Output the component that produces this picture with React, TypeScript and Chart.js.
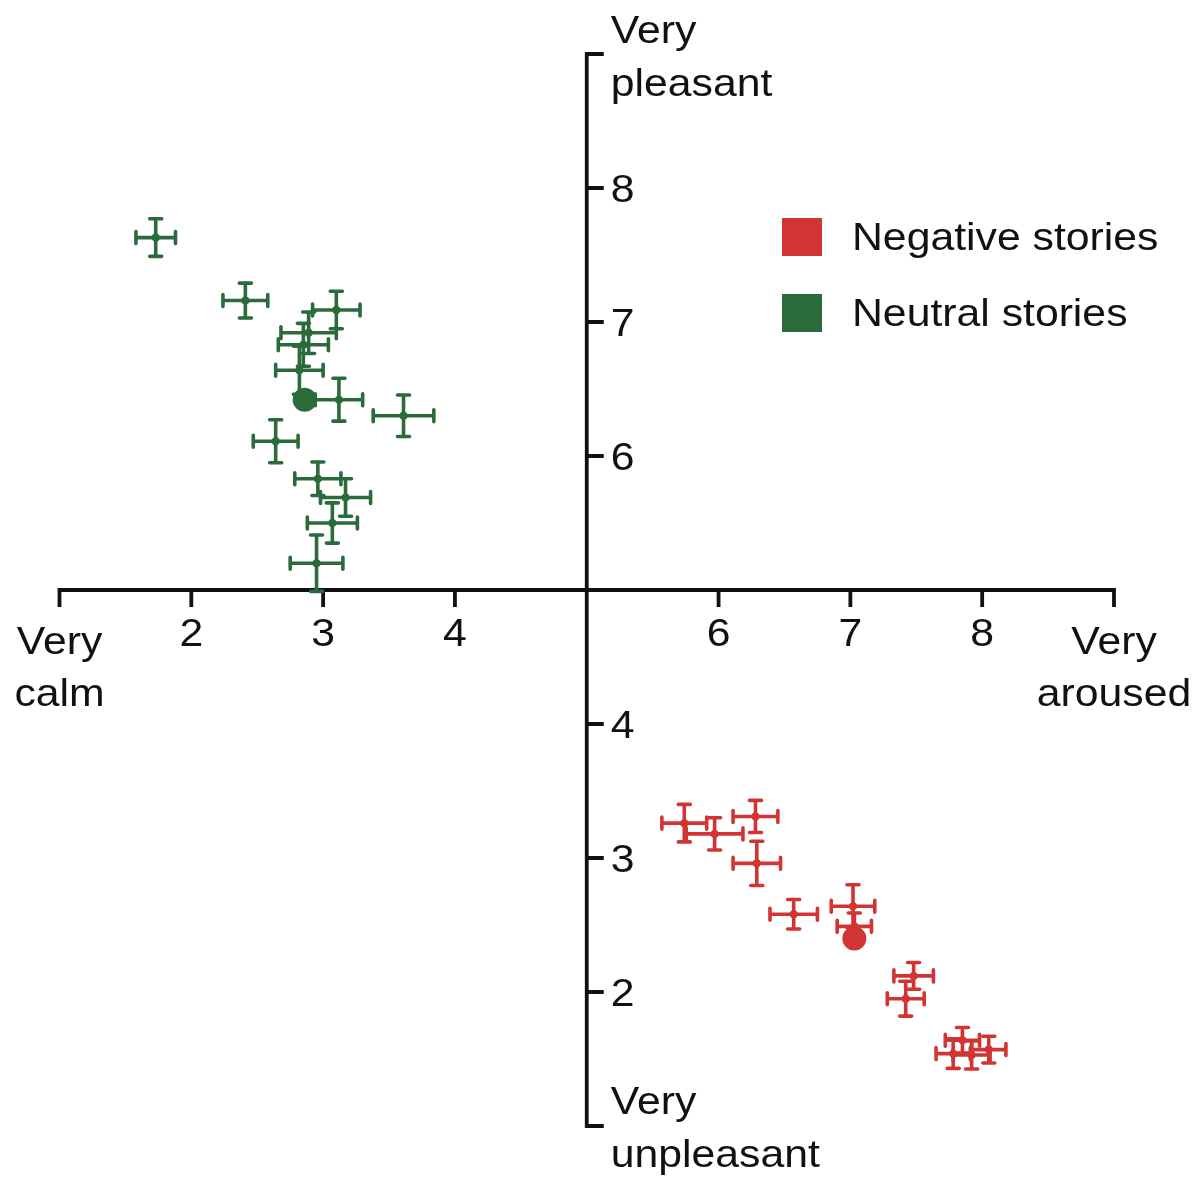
import React, { useEffect, useRef } from 'react';
import { Chart, registerables } from 'chart.js';

Chart.register(...registerables);

// ---------------- DATA ----------------
const negativeLabel = 'Negative stories';
const neutralLabel = 'Neutral stories';

// Neutral stories (green): arousal (x), valence (y), and SE bars
const neutralX = [1.73, 2.41, 3.10, 2.89, 2.85, 2.82, 3.12, 3.61, 2.64, 2.96, 3.17, 3.07, 2.95];
const neutralY = [7.63, 7.16, 7.09, 6.92, 6.83, 6.64, 6.42, 6.30, 6.11, 5.83, 5.69, 5.50, 5.20];
const neutralXErr = [0.15, 0.17, 0.18, 0.21, 0.19, 0.18, 0.18, 0.23, 0.17, 0.175, 0.19, 0.19, 0.20];
const neutralYErr = [0.14, 0.13, 0.14, 0.155, 0.16, 0.18, 0.16, 0.155, 0.16, 0.125, 0.14, 0.15, 0.21];
const neutralMean = [2.86, 6.42];

// Negative stories (red)
const negativeX = [5.74, 5.97, 6.28, 6.29, 6.57, 7.02, 7.03, 7.48, 7.42, 7.85, 7.78, 8.05, 7.92];
const negativeY = [3.26, 3.18, 3.31, 2.96, 2.58, 2.64, 2.49, 2.12, 1.95, 1.64, 1.54, 1.57, 1.53];
const negativeXErr = [0.17, 0.215, 0.17, 0.18, 0.18, 0.165, 0.13, 0.15, 0.14, 0.13, 0.13, 0.13, 0.14];
const negativeYErr = [0.14, 0.12, 0.12, 0.165, 0.11, 0.16, 0.10, 0.10, 0.13, 0.095, 0.11, 0.10, 0.105];
const negativeMean = [7.03, 2.40];

// Tick labels
const xTickValues = [2, 3, 4, 6, 7, 8];
const yTickValues = [2, 3, 4, 6, 7, 8];
const xLowLabel = ['Very', 'calm'];
const xHighLabel = ['Very', 'aroused'];
const yHighLabel = ['Very', 'pleasant'];
const yLowLabel = ['Very', 'unpleasant'];

// ---------------- STYLE ----------------
const RED = '#d13533';
const GREEN = '#2b6a3a';
const INK = '#111111';
const FONT = "38.5px 'Liberation Sans', Arial, Helvetica, sans-serif";
const SX = 1.11;

function drawText(ctx: CanvasRenderingContext2D, text: string, x: number, y: number, align: CanvasTextAlign) {
  ctx.save();
  ctx.translate(x, y + 3);
  ctx.scale(SX, 1);
  ctx.font = FONT;
  ctx.fillStyle = INK;
  ctx.textAlign = align;
  ctx.textBaseline = 'middle';
  ctx.fillText(text, 0, 0);
  ctx.restore();
}

const series = [
  { xs: neutralX, ys: neutralY, xe: neutralXErr, ye: neutralYErr, color: GREEN },
  { xs: negativeX, ys: negativeY, xe: negativeXErr, ye: negativeYErr, color: RED },
];

const quadrantPlugin = {
  id: 'quadrant',
  beforeDatasetsDraw(chart: any) {
    const { ctx } = chart;
    const xs = chart.scales.x;
    const ys = chart.scales.y;
    const x0 = xs.getPixelForValue(5);
    const y0 = ys.getPixelForValue(5);
    const xl = xs.getPixelForValue(1);
    const xr = xs.getPixelForValue(9);
    const yt = ys.getPixelForValue(9);
    const yb = ys.getPixelForValue(1);
    const tick = 17;
    ctx.save();
    ctx.strokeStyle = INK;
    ctx.lineWidth = 3.8;
    ctx.lineCap = 'butt';
    ctx.lineJoin = 'miter';
    ctx.beginPath();
    ctx.moveTo(xl, y0 + tick);
    ctx.lineTo(xl, y0);
    ctx.lineTo(xr, y0);
    ctx.lineTo(xr, y0 + tick);
    ctx.stroke();
    ctx.beginPath();
    ctx.moveTo(x0 + tick, yt);
    ctx.lineTo(x0, yt);
    ctx.lineTo(x0, yb);
    ctx.lineTo(x0 + tick, yb);
    ctx.stroke();
    ctx.beginPath();
    for (const v of xTickValues) {
      const px = xs.getPixelForValue(v);
      ctx.moveTo(px, y0);
      ctx.lineTo(px, y0 + tick);
    }
    for (const v of yTickValues) {
      const py = ys.getPixelForValue(v);
      ctx.moveTo(x0, py);
      ctx.lineTo(x0 + tick, py);
    }
    ctx.stroke();

    // error bars
    const cap = 6;
    ctx.lineWidth = 3.6;
    ctx.lineCap = 'round';
    for (const s of series) {
      ctx.strokeStyle = s.color;
      for (let i = 0; i < s.xs.length; i++) {
        const cx = xs.getPixelForValue(s.xs[i]);
        const cy = ys.getPixelForValue(s.ys[i]);
        const xa = xs.getPixelForValue(s.xs[i] - s.xe[i]);
        const xb = xs.getPixelForValue(s.xs[i] + s.xe[i]);
        const ya = ys.getPixelForValue(s.ys[i] + s.ye[i]);
        const yb2 = ys.getPixelForValue(s.ys[i] - s.ye[i]);
        ctx.beginPath();
        ctx.moveTo(xa, cy);
        ctx.lineTo(xb, cy);
        ctx.moveTo(xa, cy - cap);
        ctx.lineTo(xa, cy + cap);
        ctx.moveTo(xb, cy - cap);
        ctx.lineTo(xb, cy + cap);
        ctx.moveTo(cx, ya);
        ctx.lineTo(cx, yb2);
        ctx.moveTo(cx - cap, ya);
        ctx.lineTo(cx + cap, ya);
        ctx.moveTo(cx - cap, yb2);
        ctx.lineTo(cx + cap, yb2);
        ctx.stroke();
      }
    }
    ctx.restore();
  },
  afterDraw(chart: any) {
    const { ctx } = chart;
    const xs = chart.scales.x;
    const ys = chart.scales.y;
    const x0 = xs.getPixelForValue(5);
    const y0 = ys.getPixelForValue(5);
    for (const v of xTickValues) {
      drawText(ctx, String(v), xs.getPixelForValue(v), y0 + 42, 'center');
    }
    for (const v of yTickValues) {
      drawText(ctx, String(v), x0 + 24, ys.getPixelForValue(v), 'left');
    }
    const xl = xs.getPixelForValue(1);
    const xr = xs.getPixelForValue(9);
    drawText(ctx, xLowLabel[0], xl, y0 + 50, 'center');
    drawText(ctx, xLowLabel[1], xl, y0 + 102, 'center');
    drawText(ctx, xHighLabel[0], xr, y0 + 50, 'center');
    drawText(ctx, xHighLabel[1], xr, y0 + 102, 'center');
    const yt = ys.getPixelForValue(9);
    const yb = ys.getPixelForValue(1);
    drawText(ctx, yHighLabel[0], x0 + 24, yt - 25, 'left');
    drawText(ctx, yHighLabel[1], x0 + 24, yt + 28, 'left');
    drawText(ctx, yLowLabel[0], x0 + 24, yb - 26, 'left');
    drawText(ctx, yLowLabel[1], x0 + 24, yb + 27, 'left');

    // legend
    const items = chart.data.datasets.filter((d: any) => d.showInLegend);
    items.forEach((d: any, i: number) => {
      const top = 218 + i * 76;
      ctx.save();
      ctx.fillStyle = d.backgroundColor;
      ctx.fillRect(782, top, 40, 38);
      ctx.restore();
      drawText(ctx, d.label, 852, top + 18, 'left');
    });
  },
};

export default function App() {
  const ref = useRef<HTMLCanvasElement>(null);
  useEffect(() => {
    document.body.style.margin = '0';
    document.body.style.overflow = 'hidden';
    const chart = new Chart(ref.current as HTMLCanvasElement, {
      type: 'scatter',
      data: {
        datasets: [
          {
            label: negativeLabel,
            showInLegend: true,
            data: negativeX.map((x, i) => ({ x, y: negativeY[i] })),
            backgroundColor: RED,
            borderColor: RED,
            pointRadius: 4,
            borderWidth: 0,
          } as any,
          {
            label: neutralLabel,
            showInLegend: true,
            data: neutralX.map((x, i) => ({ x, y: neutralY[i] })),
            backgroundColor: GREEN,
            borderColor: GREEN,
            pointRadius: 4,
            borderWidth: 0,
          } as any,
          {
            label: 'Negative mean',
            data: [{ x: negativeMean[0], y: negativeMean[1] }],
            backgroundColor: RED,
            borderColor: RED,
            pointRadius: 12,
            borderWidth: 0,
          } as any,
          {
            label: 'Neutral mean',
            data: [{ x: neutralMean[0], y: neutralMean[1] }],
            backgroundColor: GREEN,
            borderColor: GREEN,
            pointRadius: 12,
            borderWidth: 0,
          } as any,
        ],
      },
      options: {
        responsive: false,
        devicePixelRatio: 1,
        animation: false,
        layout: { padding: { left: 59.5, right: 88, top: 54, bottom: 51 } },
        plugins: { legend: { display: false }, tooltip: { enabled: false } },
        scales: {
          x: { type: 'linear', min: 1, max: 9, display: false },
          y: { type: 'linear', min: 1, max: 9, display: false },
        },
      },
      plugins: [quadrantPlugin],
    });
    return () => chart.destroy();
  }, []);
  return (
    <canvas
      ref={ref}
      width={1202}
      height={1177}
      style={{ display: 'block', width: 1202, height: 1177 }}
    />
  );
}
